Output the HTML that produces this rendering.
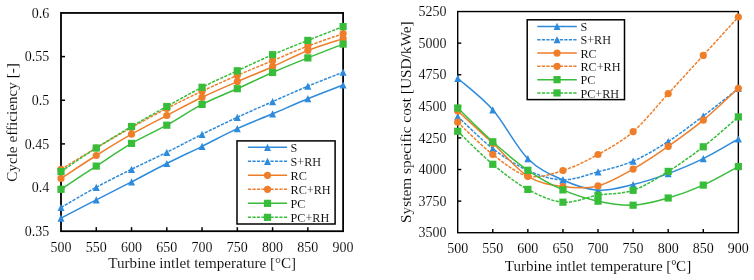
<!DOCTYPE html>
<html><head><meta charset="utf-8"><style>
html,body{margin:0;padding:0;background:#fff;}
svg{display:block;will-change:transform;}
text{font-family:"Liberation Serif", serif;font-size:14px;fill:#000;stroke:#fff;stroke-width:0.1px;paint-order:fill;}
</style></head><body>
<svg width="754" height="280" viewBox="0 0 754 280">
<rect width="754" height="280" fill="#fff"/>
<rect x="61.00" y="12.95" width="282.10" height="218.25" fill="none" stroke="#000" stroke-width="1.80"/>
<line x1="96.26" y1="231.20" x2="96.26" y2="227.20" stroke="#000" stroke-width="1.50"/>
<line x1="131.53" y1="231.20" x2="131.53" y2="227.20" stroke="#000" stroke-width="1.50"/>
<line x1="166.79" y1="231.20" x2="166.79" y2="227.20" stroke="#000" stroke-width="1.50"/>
<line x1="202.05" y1="231.20" x2="202.05" y2="227.20" stroke="#000" stroke-width="1.50"/>
<line x1="237.31" y1="231.20" x2="237.31" y2="227.20" stroke="#000" stroke-width="1.50"/>
<line x1="272.58" y1="231.20" x2="272.58" y2="227.20" stroke="#000" stroke-width="1.50"/>
<line x1="307.84" y1="231.20" x2="307.84" y2="227.20" stroke="#000" stroke-width="1.50"/>
<line x1="61.00" y1="56.60" x2="65.00" y2="56.60" stroke="#000" stroke-width="1.50"/>
<line x1="61.00" y1="100.25" x2="65.00" y2="100.25" stroke="#000" stroke-width="1.50"/>
<line x1="61.00" y1="143.90" x2="65.00" y2="143.90" stroke="#000" stroke-width="1.50"/>
<line x1="61.00" y1="187.55" x2="65.00" y2="187.55" stroke="#000" stroke-width="1.50"/>
<path d="M61.00,218.20 C66.88,215.13 84.51,205.85 96.26,199.80 C108.02,193.75 119.77,187.95 131.53,181.90 C143.28,175.85 155.03,169.43 166.79,163.50 C178.54,157.57 190.30,152.12 202.05,146.30 C213.80,140.48 225.56,134.02 237.31,128.60 C249.07,123.18 260.82,118.78 272.58,113.80 C284.33,108.82 296.08,103.50 307.84,98.70 C319.59,93.90 337.22,87.28 343.10,85.00" fill="none" stroke="#2E8BDC" stroke-width="1.50"/>
<path d="M61.00,214.60 L64.50,221.80 L57.50,221.80 Z" fill="#2E8BDC"/>
<path d="M96.26,196.20 L99.76,203.40 L92.76,203.40 Z" fill="#2E8BDC"/>
<path d="M131.53,178.30 L135.03,185.50 L128.03,185.50 Z" fill="#2E8BDC"/>
<path d="M166.79,159.90 L170.29,167.10 L163.29,167.10 Z" fill="#2E8BDC"/>
<path d="M202.05,142.70 L205.55,149.90 L198.55,149.90 Z" fill="#2E8BDC"/>
<path d="M237.31,125.00 L240.81,132.20 L233.81,132.20 Z" fill="#2E8BDC"/>
<path d="M272.58,110.20 L276.08,117.40 L269.08,117.40 Z" fill="#2E8BDC"/>
<path d="M307.84,95.10 L311.34,102.30 L304.34,102.30 Z" fill="#2E8BDC"/>
<path d="M343.10,81.40 L346.60,88.60 L339.60,88.60 Z" fill="#2E8BDC"/>
<path d="M61.00,207.50 C66.88,204.13 84.51,193.67 96.26,187.30 C108.02,180.93 119.77,175.13 131.53,169.30 C143.28,163.47 155.03,158.13 166.79,152.30 C178.54,146.47 190.30,140.13 202.05,134.30 C213.80,128.47 225.56,122.75 237.31,117.30 C249.07,111.85 260.82,106.78 272.58,101.60 C284.33,96.42 296.08,91.10 307.84,86.20 C319.59,81.30 337.22,74.53 343.10,72.20" fill="none" stroke="#2E8BDC" stroke-width="1.50" stroke-dasharray="3.2 1.3"/>
<path d="M61.00,203.90 L64.50,211.10 L57.50,211.10 Z" fill="#2E8BDC"/>
<path d="M96.26,183.70 L99.76,190.90 L92.76,190.90 Z" fill="#2E8BDC"/>
<path d="M131.53,165.70 L135.03,172.90 L128.03,172.90 Z" fill="#2E8BDC"/>
<path d="M166.79,148.70 L170.29,155.90 L163.29,155.90 Z" fill="#2E8BDC"/>
<path d="M202.05,130.70 L205.55,137.90 L198.55,137.90 Z" fill="#2E8BDC"/>
<path d="M237.31,113.70 L240.81,120.90 L233.81,120.90 Z" fill="#2E8BDC"/>
<path d="M272.58,98.00 L276.08,105.20 L269.08,105.20 Z" fill="#2E8BDC"/>
<path d="M307.84,82.60 L311.34,89.80 L304.34,89.80 Z" fill="#2E8BDC"/>
<path d="M343.10,68.60 L346.60,75.80 L339.60,75.80 Z" fill="#2E8BDC"/>
<path d="M61.00,178.40 C66.88,174.58 84.51,162.87 96.26,155.50 C108.02,148.13 119.77,140.87 131.53,134.20 C143.28,127.53 155.03,121.65 166.79,115.50 C178.54,109.35 190.30,102.95 202.05,97.30 C213.80,91.65 225.56,86.70 237.31,81.60 C249.07,76.50 260.82,71.88 272.58,66.70 C284.33,61.52 296.08,55.18 307.84,50.50 C319.59,45.82 337.22,40.58 343.10,38.60" fill="none" stroke="#EF7E2B" stroke-width="1.50"/>
<circle cx="61.00" cy="178.40" r="3.60" fill="#EF7E2B"/>
<circle cx="96.26" cy="155.50" r="3.60" fill="#EF7E2B"/>
<circle cx="131.53" cy="134.20" r="3.60" fill="#EF7E2B"/>
<circle cx="166.79" cy="115.50" r="3.60" fill="#EF7E2B"/>
<circle cx="202.05" cy="97.30" r="3.60" fill="#EF7E2B"/>
<circle cx="237.31" cy="81.60" r="3.60" fill="#EF7E2B"/>
<circle cx="272.58" cy="66.70" r="3.60" fill="#EF7E2B"/>
<circle cx="307.84" cy="50.50" r="3.60" fill="#EF7E2B"/>
<circle cx="343.10" cy="38.60" r="3.60" fill="#EF7E2B"/>
<path d="M61.00,169.30 C66.88,165.75 84.51,154.97 96.26,148.00 C108.02,141.03 119.77,134.08 131.53,127.50 C143.28,120.92 155.03,114.55 166.79,108.50 C178.54,102.45 190.30,96.72 202.05,91.20 C213.80,85.68 225.56,80.48 237.31,75.40 C249.07,70.32 260.82,65.58 272.58,60.70 C284.33,55.82 296.08,50.60 307.84,46.10 C319.59,41.60 337.22,35.77 343.10,33.70" fill="none" stroke="#EF7E2B" stroke-width="1.50" stroke-dasharray="3.2 1.3"/>
<circle cx="61.00" cy="169.30" r="3.60" fill="#EF7E2B"/>
<circle cx="96.26" cy="148.00" r="3.60" fill="#EF7E2B"/>
<circle cx="131.53" cy="127.50" r="3.60" fill="#EF7E2B"/>
<circle cx="166.79" cy="108.50" r="3.60" fill="#EF7E2B"/>
<circle cx="202.05" cy="91.20" r="3.60" fill="#EF7E2B"/>
<circle cx="237.31" cy="75.40" r="3.60" fill="#EF7E2B"/>
<circle cx="272.58" cy="60.70" r="3.60" fill="#EF7E2B"/>
<circle cx="307.84" cy="46.10" r="3.60" fill="#EF7E2B"/>
<circle cx="343.10" cy="33.70" r="3.60" fill="#EF7E2B"/>
<path d="M61.00,189.30 C66.88,185.43 84.51,173.75 96.26,166.10 C108.02,158.45 119.77,150.22 131.53,143.40 C143.28,136.58 155.03,131.70 166.79,125.20 C178.54,118.70 190.30,110.48 202.05,104.40 C213.80,98.32 225.56,94.02 237.31,88.70 C249.07,83.38 260.82,77.63 272.58,72.50 C284.33,67.37 296.08,62.63 307.84,57.90 C319.59,53.17 337.22,46.40 343.10,44.10" fill="none" stroke="#38BD3A" stroke-width="1.50"/>
<rect x="57.40" y="185.70" width="7.20" height="7.20" fill="#38BD3A"/>
<rect x="92.66" y="162.50" width="7.20" height="7.20" fill="#38BD3A"/>
<rect x="127.93" y="139.80" width="7.20" height="7.20" fill="#38BD3A"/>
<rect x="163.19" y="121.60" width="7.20" height="7.20" fill="#38BD3A"/>
<rect x="198.45" y="100.80" width="7.20" height="7.20" fill="#38BD3A"/>
<rect x="233.71" y="85.10" width="7.20" height="7.20" fill="#38BD3A"/>
<rect x="268.98" y="68.90" width="7.20" height="7.20" fill="#38BD3A"/>
<rect x="304.24" y="54.30" width="7.20" height="7.20" fill="#38BD3A"/>
<rect x="339.50" y="40.50" width="7.20" height="7.20" fill="#38BD3A"/>
<path d="M61.00,171.50 C66.88,167.58 84.51,155.50 96.26,148.00 C108.02,140.50 119.77,133.42 131.53,126.50 C143.28,119.58 155.03,113.03 166.79,106.50 C178.54,99.97 190.30,93.25 202.05,87.30 C213.80,81.35 225.56,76.23 237.31,70.80 C249.07,65.37 260.82,59.77 272.58,54.70 C284.33,49.63 296.08,45.08 307.84,40.40 C319.59,35.72 337.22,28.90 343.10,26.60" fill="none" stroke="#38BD3A" stroke-width="1.50" stroke-dasharray="3.2 1.3"/>
<rect x="57.40" y="167.90" width="7.20" height="7.20" fill="#38BD3A"/>
<rect x="92.66" y="144.40" width="7.20" height="7.20" fill="#38BD3A"/>
<rect x="127.93" y="122.90" width="7.20" height="7.20" fill="#38BD3A"/>
<rect x="163.19" y="102.90" width="7.20" height="7.20" fill="#38BD3A"/>
<rect x="198.45" y="83.70" width="7.20" height="7.20" fill="#38BD3A"/>
<rect x="233.71" y="67.20" width="7.20" height="7.20" fill="#38BD3A"/>
<rect x="268.98" y="51.10" width="7.20" height="7.20" fill="#38BD3A"/>
<rect x="304.24" y="36.80" width="7.20" height="7.20" fill="#38BD3A"/>
<rect x="339.50" y="23.00" width="7.20" height="7.20" fill="#38BD3A"/>
<text x="61.00" y="251.90" text-anchor="middle">500</text>
<text x="96.26" y="251.90" text-anchor="middle">550</text>
<text x="131.53" y="251.90" text-anchor="middle">600</text>
<text x="166.79" y="251.90" text-anchor="middle">650</text>
<text x="202.05" y="251.90" text-anchor="middle">700</text>
<text x="237.31" y="251.90" text-anchor="middle">750</text>
<text x="272.58" y="251.90" text-anchor="middle">800</text>
<text x="307.84" y="251.90" text-anchor="middle">850</text>
<text x="343.10" y="251.90" text-anchor="middle">900</text>
<text x="49.30" y="236.00" text-anchor="end">0.35</text>
<text x="49.30" y="192.35" text-anchor="end">0.4</text>
<text x="49.30" y="148.70" text-anchor="end">0.45</text>
<text x="49.30" y="105.05" text-anchor="end">0.5</text>
<text x="49.30" y="61.40" text-anchor="end">0.55</text>
<text x="49.30" y="17.75" text-anchor="end">0.6</text>
<text x="202.25" y="268.40" text-anchor="middle" style="font-size:15.10px">Turbine intlet temperature [&#176;C]</text>
<text transform="translate(17.00,122.50) rotate(-90)" text-anchor="middle" style="font-size:15.20px">Cycle efficiency [-]</text>
<rect x="237.00" y="140.90" width="98.10" height="83.10" fill="#fff" stroke="#000" stroke-width="1.50"/>
<line x1="247.90" y1="147.35" x2="287.10" y2="147.35" stroke="#2E8BDC" stroke-width="1.50"/>
<path d="M267.50,143.75 L271.00,150.95 L264.00,150.95 Z" fill="#2E8BDC"/>
<text x="290.50" y="152.15" style="font-size:12.20px">S</text>
<line x1="247.90" y1="161.35" x2="287.10" y2="161.35" stroke="#2E8BDC" stroke-width="1.50" stroke-dasharray="3.2 1.3"/>
<path d="M267.50,157.75 L271.00,164.95 L264.00,164.95 Z" fill="#2E8BDC"/>
<text x="290.50" y="166.15" style="font-size:12.20px">S+RH</text>
<line x1="247.90" y1="175.35" x2="287.10" y2="175.35" stroke="#EF7E2B" stroke-width="1.50"/>
<circle cx="267.50" cy="175.35" r="3.60" fill="#EF7E2B"/>
<text x="290.50" y="180.15" style="font-size:12.20px">RC</text>
<line x1="247.90" y1="189.35" x2="287.10" y2="189.35" stroke="#EF7E2B" stroke-width="1.50" stroke-dasharray="3.2 1.3"/>
<circle cx="267.50" cy="189.35" r="3.60" fill="#EF7E2B"/>
<text x="290.50" y="194.15" style="font-size:12.20px">RC+RH</text>
<line x1="247.90" y1="203.35" x2="287.10" y2="203.35" stroke="#38BD3A" stroke-width="1.50"/>
<rect x="263.90" y="199.75" width="7.20" height="7.20" fill="#38BD3A"/>
<text x="290.50" y="208.15" style="font-size:12.20px">PC</text>
<line x1="247.90" y1="217.35" x2="287.10" y2="217.35" stroke="#38BD3A" stroke-width="1.50" stroke-dasharray="3.2 1.3"/>
<rect x="263.90" y="213.75" width="7.20" height="7.20" fill="#38BD3A"/>
<text x="290.50" y="222.15" style="font-size:12.20px">PC+RH</text>
<rect x="457.70" y="11.55" width="280.65" height="221.15" fill="none" stroke="#000" stroke-width="1.40"/>
<line x1="492.78" y1="232.70" x2="492.78" y2="229.10" stroke="#000" stroke-width="1.40"/>
<line x1="527.86" y1="232.70" x2="527.86" y2="229.10" stroke="#000" stroke-width="1.40"/>
<line x1="562.94" y1="232.70" x2="562.94" y2="229.10" stroke="#000" stroke-width="1.40"/>
<line x1="598.02" y1="232.70" x2="598.02" y2="229.10" stroke="#000" stroke-width="1.40"/>
<line x1="633.11" y1="232.70" x2="633.11" y2="229.10" stroke="#000" stroke-width="1.40"/>
<line x1="668.19" y1="232.70" x2="668.19" y2="229.10" stroke="#000" stroke-width="1.40"/>
<line x1="703.27" y1="232.70" x2="703.27" y2="229.10" stroke="#000" stroke-width="1.40"/>
<line x1="457.70" y1="43.14" x2="461.30" y2="43.14" stroke="#000" stroke-width="1.40"/>
<line x1="457.70" y1="74.74" x2="461.30" y2="74.74" stroke="#000" stroke-width="1.40"/>
<line x1="457.70" y1="106.33" x2="461.30" y2="106.33" stroke="#000" stroke-width="1.40"/>
<line x1="457.70" y1="137.92" x2="461.30" y2="137.92" stroke="#000" stroke-width="1.40"/>
<line x1="457.70" y1="169.51" x2="461.30" y2="169.51" stroke="#000" stroke-width="1.40"/>
<line x1="457.70" y1="201.11" x2="461.30" y2="201.11" stroke="#000" stroke-width="1.40"/>
<path d="M457.70,78.30 C463.55,83.55 481.09,96.40 492.78,109.80 C504.48,123.20 516.17,147.00 527.86,158.70 C539.56,170.40 551.25,174.73 562.94,180.00 C574.64,185.27 586.33,189.53 598.02,190.30 C609.72,191.07 621.41,187.38 633.11,184.60 C644.80,181.82 656.49,177.92 668.19,173.60 C679.88,169.28 691.57,164.47 703.27,158.70 C714.96,152.93 732.50,142.28 738.35,139.00" fill="none" stroke="#2E8BDC" stroke-width="1.50"/>
<path d="M457.70,74.70 L461.20,81.90 L454.20,81.90 Z" fill="#2E8BDC"/>
<path d="M492.78,106.20 L496.28,113.40 L489.28,113.40 Z" fill="#2E8BDC"/>
<path d="M527.86,155.10 L531.36,162.30 L524.36,162.30 Z" fill="#2E8BDC"/>
<path d="M562.94,176.40 L566.44,183.60 L559.44,183.60 Z" fill="#2E8BDC"/>
<path d="M598.02,186.70 L601.52,193.90 L594.52,193.90 Z" fill="#2E8BDC"/>
<path d="M633.11,181.00 L636.61,188.20 L629.61,188.20 Z" fill="#2E8BDC"/>
<path d="M668.19,170.00 L671.69,177.20 L664.69,177.20 Z" fill="#2E8BDC"/>
<path d="M703.27,155.10 L706.77,162.30 L699.77,162.30 Z" fill="#2E8BDC"/>
<path d="M738.35,135.40 L741.85,142.60 L734.85,142.60 Z" fill="#2E8BDC"/>
<path d="M457.70,116.50 C463.55,121.85 481.09,139.60 492.78,148.60 C504.48,157.60 516.17,165.30 527.86,170.50 C539.56,175.70 551.25,179.58 562.94,179.80 C574.64,180.02 586.33,174.92 598.02,171.80 C609.72,168.68 621.41,166.15 633.11,161.10 C644.80,156.05 656.49,149.02 668.19,141.50 C679.88,133.98 691.57,124.83 703.27,116.00 C714.96,107.17 732.50,93.08 738.35,88.50" fill="none" stroke="#2E8BDC" stroke-width="1.50" stroke-dasharray="3.2 1.3"/>
<path d="M457.70,112.90 L461.20,120.10 L454.20,120.10 Z" fill="#2E8BDC"/>
<path d="M492.78,145.00 L496.28,152.20 L489.28,152.20 Z" fill="#2E8BDC"/>
<path d="M527.86,166.90 L531.36,174.10 L524.36,174.10 Z" fill="#2E8BDC"/>
<path d="M562.94,176.20 L566.44,183.40 L559.44,183.40 Z" fill="#2E8BDC"/>
<path d="M598.02,168.20 L601.52,175.40 L594.52,175.40 Z" fill="#2E8BDC"/>
<path d="M633.11,157.50 L636.61,164.70 L629.61,164.70 Z" fill="#2E8BDC"/>
<path d="M668.19,137.90 L671.69,145.10 L664.69,145.10 Z" fill="#2E8BDC"/>
<path d="M703.27,112.40 L706.77,119.60 L699.77,119.60 Z" fill="#2E8BDC"/>
<path d="M738.35,84.90 L741.85,92.10 L734.85,92.10 Z" fill="#2E8BDC"/>
<path d="M457.70,111.00 C463.55,116.38 481.09,132.42 492.78,143.30 C504.48,154.18 516.17,169.08 527.86,176.30 C539.56,183.52 551.25,185.00 562.94,186.60 C574.64,188.20 586.33,188.82 598.02,185.90 C609.72,182.98 621.41,175.68 633.11,169.10 C644.80,162.52 656.49,154.55 668.19,146.40 C679.88,138.25 691.57,129.88 703.27,120.20 C714.96,110.52 732.50,93.62 738.35,88.30" fill="none" stroke="#EF7E2B" stroke-width="1.50"/>
<circle cx="457.70" cy="111.00" r="3.60" fill="#EF7E2B"/>
<circle cx="492.78" cy="143.30" r="3.60" fill="#EF7E2B"/>
<circle cx="527.86" cy="176.30" r="3.60" fill="#EF7E2B"/>
<circle cx="562.94" cy="186.60" r="3.60" fill="#EF7E2B"/>
<circle cx="598.02" cy="185.90" r="3.60" fill="#EF7E2B"/>
<circle cx="633.11" cy="169.10" r="3.60" fill="#EF7E2B"/>
<circle cx="668.19" cy="146.40" r="3.60" fill="#EF7E2B"/>
<circle cx="703.27" cy="120.20" r="3.60" fill="#EF7E2B"/>
<circle cx="738.35" cy="88.30" r="3.60" fill="#EF7E2B"/>
<path d="M457.70,122.20 C463.55,127.58 481.09,145.53 492.78,154.50 C504.48,163.47 516.17,173.33 527.86,176.00 C539.56,178.67 551.25,174.08 562.94,170.50 C574.64,166.92 586.33,160.97 598.02,154.50 C609.72,148.03 621.41,141.83 633.11,131.70 C644.80,121.57 656.49,106.42 668.19,93.70 C679.88,80.98 691.57,68.18 703.27,55.40 C714.96,42.62 732.50,23.40 738.35,17.00" fill="none" stroke="#EF7E2B" stroke-width="1.50" stroke-dasharray="3.2 1.3"/>
<circle cx="457.70" cy="122.20" r="3.60" fill="#EF7E2B"/>
<circle cx="492.78" cy="154.50" r="3.60" fill="#EF7E2B"/>
<circle cx="527.86" cy="176.00" r="3.60" fill="#EF7E2B"/>
<circle cx="562.94" cy="170.50" r="3.60" fill="#EF7E2B"/>
<circle cx="598.02" cy="154.50" r="3.60" fill="#EF7E2B"/>
<circle cx="633.11" cy="131.70" r="3.60" fill="#EF7E2B"/>
<circle cx="668.19" cy="93.70" r="3.60" fill="#EF7E2B"/>
<circle cx="703.27" cy="55.40" r="3.60" fill="#EF7E2B"/>
<circle cx="738.35" cy="17.00" r="3.60" fill="#EF7E2B"/>
<path d="M457.70,108.00 C463.55,113.63 481.09,131.42 492.78,141.80 C504.48,152.18 516.17,162.28 527.86,170.30 C539.56,178.32 551.25,184.75 562.94,189.90 C574.64,195.05 586.33,198.65 598.02,201.20 C609.72,203.75 621.41,205.73 633.11,205.20 C644.80,204.67 656.49,201.35 668.19,198.00 C679.88,194.65 691.57,190.33 703.27,185.10 C714.96,179.87 732.50,169.68 738.35,166.60" fill="none" stroke="#38BD3A" stroke-width="1.50"/>
<rect x="454.10" y="104.40" width="7.20" height="7.20" fill="#38BD3A"/>
<rect x="489.18" y="138.20" width="7.20" height="7.20" fill="#38BD3A"/>
<rect x="524.26" y="166.70" width="7.20" height="7.20" fill="#38BD3A"/>
<rect x="559.34" y="186.30" width="7.20" height="7.20" fill="#38BD3A"/>
<rect x="594.42" y="197.60" width="7.20" height="7.20" fill="#38BD3A"/>
<rect x="629.51" y="201.60" width="7.20" height="7.20" fill="#38BD3A"/>
<rect x="664.59" y="194.40" width="7.20" height="7.20" fill="#38BD3A"/>
<rect x="699.67" y="181.50" width="7.20" height="7.20" fill="#38BD3A"/>
<rect x="734.75" y="163.00" width="7.20" height="7.20" fill="#38BD3A"/>
<path d="M457.70,131.30 C463.55,136.80 481.09,154.62 492.78,164.30 C504.48,173.98 516.17,183.08 527.86,189.40 C539.56,195.72 551.25,201.23 562.94,202.20 C574.64,203.17 586.33,197.18 598.02,195.20 C609.72,193.22 621.41,194.27 633.11,190.30 C644.80,186.33 656.49,178.65 668.19,171.40 C679.88,164.15 691.57,155.88 703.27,146.80 C714.96,137.72 732.50,121.88 738.35,116.90" fill="none" stroke="#38BD3A" stroke-width="1.50" stroke-dasharray="3.2 1.3"/>
<rect x="454.10" y="127.70" width="7.20" height="7.20" fill="#38BD3A"/>
<rect x="489.18" y="160.70" width="7.20" height="7.20" fill="#38BD3A"/>
<rect x="524.26" y="185.80" width="7.20" height="7.20" fill="#38BD3A"/>
<rect x="559.34" y="198.60" width="7.20" height="7.20" fill="#38BD3A"/>
<rect x="594.42" y="191.60" width="7.20" height="7.20" fill="#38BD3A"/>
<rect x="629.51" y="186.70" width="7.20" height="7.20" fill="#38BD3A"/>
<rect x="664.59" y="167.80" width="7.20" height="7.20" fill="#38BD3A"/>
<rect x="699.67" y="143.20" width="7.20" height="7.20" fill="#38BD3A"/>
<rect x="734.75" y="113.30" width="7.20" height="7.20" fill="#38BD3A"/>
<text x="457.70" y="253.20" text-anchor="middle">500</text>
<text x="492.78" y="253.20" text-anchor="middle">550</text>
<text x="527.86" y="253.20" text-anchor="middle">600</text>
<text x="562.94" y="253.20" text-anchor="middle">650</text>
<text x="598.02" y="253.20" text-anchor="middle">700</text>
<text x="633.11" y="253.20" text-anchor="middle">750</text>
<text x="668.19" y="253.20" text-anchor="middle">800</text>
<text x="703.27" y="253.20" text-anchor="middle">850</text>
<text x="738.35" y="253.20" text-anchor="middle">900</text>
<text x="446.40" y="237.40" text-anchor="end">3500</text>
<text x="446.40" y="205.81" text-anchor="end">3750</text>
<text x="446.40" y="174.21" text-anchor="end">4000</text>
<text x="446.40" y="142.62" text-anchor="end">4250</text>
<text x="446.40" y="111.03" text-anchor="end">4500</text>
<text x="446.40" y="79.44" text-anchor="end">4750</text>
<text x="446.40" y="47.84" text-anchor="end">5000</text>
<text x="446.40" y="16.25" text-anchor="end">5250</text>
<text x="597.95" y="270.50" text-anchor="middle" style="font-size:15.10px">Turbine intlet temperature [&#186;C]</text>
<text transform="translate(411.30,122.20) rotate(-90)" text-anchor="middle" style="font-size:15.30px">System specific cost [USD/kWe]</text>
<rect x="527.20" y="19.80" width="97.30" height="79.80" fill="#fff" stroke="#000" stroke-width="1.50"/>
<line x1="537.30" y1="26.45" x2="576.80" y2="26.45" stroke="#2E8BDC" stroke-width="1.50"/>
<path d="M557.05,22.85 L560.55,30.05 L553.55,30.05 Z" fill="#2E8BDC"/>
<text x="580.40" y="31.15" style="font-size:12.20px">S</text>
<line x1="537.30" y1="39.75" x2="576.80" y2="39.75" stroke="#2E8BDC" stroke-width="1.50" stroke-dasharray="3.2 1.3"/>
<path d="M557.05,36.15 L560.55,43.35 L553.55,43.35 Z" fill="#2E8BDC"/>
<text x="580.40" y="44.45" style="font-size:12.20px">S+RH</text>
<line x1="537.30" y1="53.05" x2="576.80" y2="53.05" stroke="#EF7E2B" stroke-width="1.50"/>
<circle cx="557.05" cy="53.05" r="3.60" fill="#EF7E2B"/>
<text x="580.40" y="57.75" style="font-size:12.20px">RC</text>
<line x1="537.30" y1="66.35" x2="576.80" y2="66.35" stroke="#EF7E2B" stroke-width="1.50" stroke-dasharray="3.2 1.3"/>
<circle cx="557.05" cy="66.35" r="3.60" fill="#EF7E2B"/>
<text x="580.40" y="71.05" style="font-size:12.20px">RC+RH</text>
<line x1="537.30" y1="79.65" x2="576.80" y2="79.65" stroke="#38BD3A" stroke-width="1.50"/>
<rect x="553.45" y="76.05" width="7.20" height="7.20" fill="#38BD3A"/>
<text x="580.40" y="84.35" style="font-size:12.20px">PC</text>
<line x1="537.30" y1="92.95" x2="576.80" y2="92.95" stroke="#38BD3A" stroke-width="1.50" stroke-dasharray="3.2 1.3"/>
<rect x="553.45" y="89.35" width="7.20" height="7.20" fill="#38BD3A"/>
<text x="580.40" y="97.65" style="font-size:12.20px">PC+RH</text>
</svg>
</body></html>
